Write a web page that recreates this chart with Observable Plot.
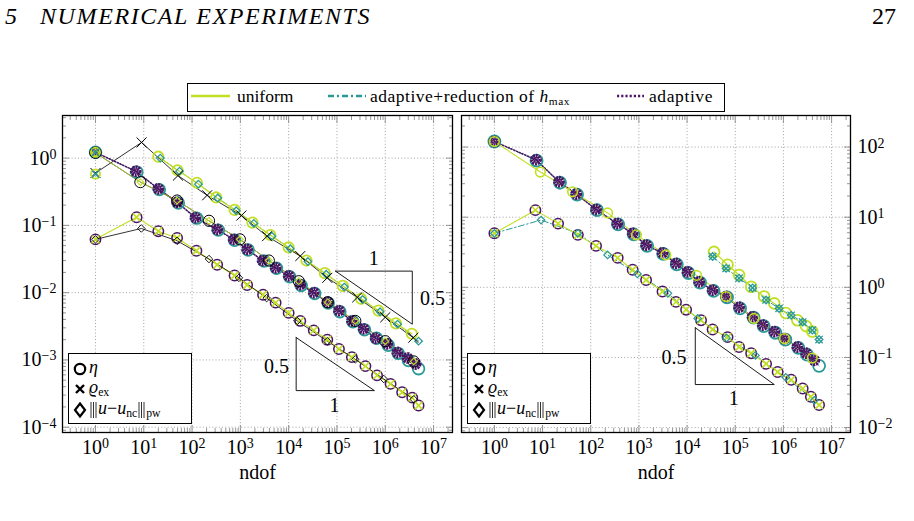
<!DOCTYPE html>
<html><head><meta charset="utf-8">
<script src="https://cdn.jsdelivr.net/npm/d3@7"></script>
<script src="https://cdn.jsdelivr.net/npm/@observablehq/plot@0.6"></script>
<style>
body{margin:0;width:914px;height:521px;position:relative;background:#fff;font-family:"Liberation Serif","Times New Roman","DejaVu Serif",serif;overflow:hidden;color:#000}
.abs{position:absolute;white-space:nowrap}
.leg{position:absolute;border:1px solid #000;background:#fff}
.ilg{position:absolute;border:1px solid #000;background:#fff;font-size:18px}
.ilg .row{position:absolute;left:4px;height:20px;line-height:20px}
.ilg svg{vertical-align:middle}
sub{font-size:0.65em;vertical-align:-0.25em}
.bars{display:inline-block;width:7px;height:16px;vertical-align:-3px;margin:0 1px}
</style></head><body>
<div class="abs" style="left:5px;top:3px;font-style:italic;font-size:24px">5</div>
<div class="abs" style="left:40px;top:3px;font-style:italic;font-size:24px;letter-spacing:1.6px">NUMERICAL EXPERIMENTS</div>
<div class="abs" style="left:872px;top:3px;font-size:24px">27</div>

<div class="leg" style="left:187px;top:83px;width:536px;height:27px"></div>
<svg class="abs" style="left:190px;top:90px" width="42" height="12"><line x1="1" y1="6" x2="40" y2="6" stroke="#c2df23" stroke-width="2.6"/></svg>
<div class="abs" style="left:237px;top:86px;font-size:17.5px">uniform</div>
<svg class="abs" style="left:327px;top:90px" width="42" height="12"><line x1="1" y1="6" x2="39" y2="6" stroke="#2a9a96" stroke-width="2.6" stroke-dasharray="6,3,2,3"/></svg>
<div class="abs" style="left:370px;top:86px;font-size:17.5px;letter-spacing:0.5px">adaptive+reduction of <i>h</i><sub>max</sub></div>
<svg class="abs" style="left:616px;top:90px" width="30" height="12"><line x1="1" y1="6" x2="28" y2="6" stroke="#4e1766" stroke-width="2.6" stroke-dasharray="2.2,2"/></svg>
<div class="abs" style="left:649px;top:86px;font-size:17.5px;letter-spacing:0.6px">adaptive</div>

<div id="left" class="abs" style="left:0px;top:100px"></div>
<div id="right" class="abs" style="left:457px;top:100px"></div>

<div class="ilg" style="left:68px;top:353px;width:122px;height:69px">
  <div class="row" style="top:3px"><svg width="16" height="14"><circle cx="7" cy="7" r="5.2" fill="none" stroke="#000" stroke-width="2.2"/></svg><i>η</i></div>
  <div class="row" style="top:23px"><svg width="16" height="14"><path d="M3,3L11,11M11,3L3,11" stroke="#000" stroke-width="2.4"/></svg><i>ϱ</i><sub>ex</sub></div>
  <div class="row" style="top:44px"><svg width="16" height="16"><path d="M7,1.5L12,8L7,14.5L2,8Z" fill="none" stroke="#000" stroke-width="2.2"/></svg><svg class="bars" viewBox="0 0 7 16"><path d="M1,0V16M3.5,0V16M6,0V16" stroke="#000" stroke-width="0.8"/></svg><i>u</i>−<i>u</i><sub>nc</sub><svg class="bars" viewBox="0 0 7 16"><path d="M1,0V16M3.5,0V16M6,0V16" stroke="#000" stroke-width="0.8"/></svg><sub>pw</sub></div>
</div>
<div class="ilg" style="left:467px;top:353px;width:122px;height:69px">
  <div class="row" style="top:3px"><svg width="16" height="14"><circle cx="7" cy="7" r="5.2" fill="none" stroke="#000" stroke-width="2.2"/></svg><i>η</i></div>
  <div class="row" style="top:23px"><svg width="16" height="14"><path d="M3,3L11,11M11,3L3,11" stroke="#000" stroke-width="2.4"/></svg><i>ϱ</i><sub>ex</sub></div>
  <div class="row" style="top:44px"><svg width="16" height="16"><path d="M7,1.5L12,8L7,14.5L2,8Z" fill="none" stroke="#000" stroke-width="2.2"/></svg><svg class="bars" viewBox="0 0 7 16"><path d="M1,0V16M3.5,0V16M6,0V16" stroke="#000" stroke-width="0.8"/></svg><i>u</i>−<i>u</i><sub>nc</sub><svg class="bars" viewBox="0 0 7 16"><path d="M1,0V16M3.5,0V16M6,0V16" stroke="#000" stroke-width="0.8"/></svg><sub>pw</sub></div>
</div>

<script>
// ---------------- data: left panel ----------------
const L_uniA_n = [20, 50, 126, 316, 760, 1780, 4170, 10000, 23400, 56200, 132000, 316000, 724000, 1660000, 3550000];
const L_uniA_v = [1.05, 0.66, 0.43, 0.26, 0.17, 0.11, 0.072, 0.047, 0.030, 0.0195, 0.0126, 0.0081, 0.0054, 0.0035, 0.00245];
const L_hmaxA_n = [22, 55, 135, 340, 820, 1900, 4500, 10800, 25000, 60000, 142000, 340000, 780000, 1800000, 4900000];
const L_hmaxA_v = [1.0, 0.64, 0.41, 0.255, 0.165, 0.107, 0.069, 0.045, 0.029, 0.0188, 0.0121, 0.0079, 0.0052, 0.0034, 0.0019];
const L_blackA_n = [1, 9, 51, 205, 1050, 3560, 17400, 63000, 263000, 1000000, 3800000];
const L_blackA_v = [0.6, 1.71, 0.55, 0.28, 0.14, 0.069, 0.035, 0.0166, 0.0085, 0.0043, 0.00214];
const L_start_n = [1, 1];
const L_start_v = [0.58, 1.22];

const L_adaB_n = [1, 6.8, 20, 49, 117, 331, 724, 1380, 2880, 5370, 10000, 17400, 33100, 63100, 110000, 204000, 355000, 631000, 1100000, 1780000, 2880000, 4270000];
const L_adaB_v = [1.22, 0.64, 0.35, 0.22, 0.13, 0.087, 0.062, 0.044, 0.030, 0.0234, 0.0178, 0.0132, 0.010, 0.0072, 0.0054, 0.0038, 0.0029, 0.0021, 0.00174, 0.00129, 0.00107, 0.00087];
const L_hmaxB_n = [1, 7.2, 21, 52, 125, 350, 760, 1450, 3100, 5600, 10500, 18200, 34700, 66000, 115000, 214000, 372000, 660000, 1150000, 1860000, 3020000, 4900000];
const L_hmaxB_v = [1.22, 0.62, 0.34, 0.215, 0.128, 0.085, 0.060, 0.043, 0.0295, 0.023, 0.0172, 0.0128, 0.0097, 0.0070, 0.0052, 0.0037, 0.0028, 0.0021, 0.00165, 0.00125, 0.00098, 0.00074];
const L_blackB_n = [1, 8.5, 49, 224, 977, 3890, 16200, 64600, 240000, 1000000, 3890000];
const L_blackB_v = [1.2, 0.44, 0.234, 0.117, 0.062, 0.030, 0.0148, 0.0072, 0.0038, 0.0019, 0.00095];

const L_adaC_n = [1, 7.1, 20, 49, 123, 331, 759, 1380, 2950, 5370, 10000, 17400, 33100, 63100, 110000, 204000, 389000, 676000, 1290000, 2240000, 3630000, 4900000];
const L_adaC_v = [0.062, 0.132, 0.082, 0.065, 0.042, 0.026, 0.018, 0.013, 0.0093, 0.0071, 0.0050, 0.0038, 0.00275, 0.0020, 0.00145, 0.0011, 0.00081, 0.00059, 0.00044, 0.00033, 0.000275, 0.00021];
const L_blackC_n = [1, 8.9, 49, 224, 933, 3500, 15100, 63100, 240000, 933000, 3890000];
const L_blackC_v = [0.062, 0.09, 0.059, 0.0316, 0.0166, 0.0083, 0.0038, 0.0019, 0.00102, 0.00052, 0.00026];

// slope triangles (left)
const L_tri1_n = [93300, 3630000, 3630000, 93300];
const L_tri1_v = [0.0209, 0.0209, 0.0034, 0.0209];
const L_tri2_n = [14300, 14300, 597000, 14300];
const L_tri2_v = [0.00215, 0.00035, 0.00035, 0.00215];
const L_triLab_n = [575000, 9500000, 5600, 89000];
const L_triLab_v = [0.0316, 0.0081, 0.00079, 0.00021];
const L_triLab_t = ["1", "0.5", "0.5", "1"];

// ---------------- data: right panel ----------------
const R_uniA_n = [36300, 69200, 120000, 214000, 398000, 646000, 1120000, 1950000, 2950000, 3980000];
const R_uniA_v = [3.2, 2.1, 1.5, 1.02, 0.74, 0.59, 0.43, 0.34, 0.28, 0.234];
const R_hmaxA_n = [33900, 64600, 120000, 229000, 437000, 813000, 1450000, 2510000, 3980000, 5500000];
const R_hmaxA_v = [2.75, 1.86, 1.35, 0.98, 0.66, 0.50, 0.40, 0.32, 0.245, 0.18];

const R_adaB_n = [1, 7.3, 22, 50, 129, 355, 741, 1410, 3090, 5890, 10200, 17800, 33900, 64600, 120000, 229000, 372000, 646000, 1050000, 1950000, 2950000, 4370000];
const R_adaB_v = [120, 66, 32, 21.4, 12.9, 8.1, 5.9, 4.0, 3.1, 2.19, 1.66, 1.2, 0.91, 0.74, 0.52, 0.38, 0.29, 0.234, 0.186, 0.141, 0.115, 0.091];
const R_hmaxB_n = [1, 7.5, 23, 52, 135, 370, 780, 1480, 3200, 6100, 10700, 18600, 35500, 67600, 126000, 240000, 390000, 680000, 1100000, 2040000, 3090000, 5500000];
const R_hmaxB_v = [120, 64, 31, 21, 12.6, 7.9, 5.7, 3.9, 3.0, 2.12, 1.6, 1.17, 0.89, 0.72, 0.5, 0.37, 0.28, 0.225, 0.18, 0.137, 0.11, 0.076];
const R_uniB_n = [1, 9, 42, 224, 891, 3630, 15800, 64600, 245000, 1050000, 3980000];
const R_uniB_v = [120, 44, 23, 11.5, 5.6, 2.9, 1.48, 0.74, 0.36, 0.186, 0.098];

const R_adaC_n = [1, 7.1, 21, 54, 129, 363, 741, 1410, 3090, 5890, 9550, 19500, 33900, 69200, 120000, 214000, 437000, 759000, 1450000, 2510000, 3720000, 5500000];
const R_adaC_v = [5.9, 12.6, 8.1, 5.6, 3.9, 2.63, 1.78, 1.27, 0.87, 0.62, 0.48, 0.34, 0.25, 0.195, 0.141, 0.115, 0.081, 0.062, 0.048, 0.036, 0.0275, 0.021];
const R_hmaxC_n = [1, 9.3, 54, 224, 933, 4000, 16600, 66000, 263000, 1120000, 4370000];
const R_hmaxC_v = [5.9, 9.1, 5.9, 2.9, 1.55, 0.82, 0.36, 0.19, 0.107, 0.052, 0.0245];

const R_tri_n = [14800, 14800, 646000, 14800];
const R_tri_v = [0.265, 0.0411, 0.0411, 0.265];
const R_triLab_n = [5370, 93300];
const R_triLab_v = [0.1, 0.026];
const R_triLab_t = ["0.5", "1"];

// axis configuration
const xDomain = [0.2075, 2.47e7];
const yDomainL = [8.34e-5, 4.30];
const yDomainR = [0.00851, 281.8];
const xMajor = [1, 10, 100, 1e3, 1e4, 1e5, 1e6, 1e7];
const yMajorL = [1e-4, 1e-3, 1e-2, 1e-1, 1];
const yMajorR = [1e-2, 1e-1, 1, 10, 100];

// ---------------- drawing ----------------
const SERIF = "'Liberation Serif','Times New Roman','DejaVu Serif',serif";
const LIME = "#c2df23", TEAL = "#2a9a96", PURPLE = "#4a1463", BLACK = "#000";
const DASHDOT = "6,2.5,1.5,2.5", DOTTED = "1.3,1.7";
const pts = (n, v) => n.map((d, i) => ({n: d, v: v[i]}));
const ln = (n, v, stroke, o = {}) => Plot.line(pts(n, v), {x: "n", y: "v", stroke, strokeWidth: 1, ...o});
const dt = (n, v, symbol, stroke, r, o = {}) => Plot.dot(pts(n, v), {x: "n", y: "v", symbol, stroke, r, fill: "none", strokeWidth: 1.4, ...o});
const dotted = (n, v) => [
  dt(n, v, "circle", PURPLE, 4.3, {strokeWidth: 3.2, strokeDasharray: "2,0.8"}),
  dt(n, v, "times", PURPLE, 3.2, {strokeWidth: 1.8, strokeDasharray: "1.5,0.7"}),
  dt(n, v, "diamond2", PURPLE, 2.4, {strokeWidth: 1.6, strokeDasharray: "1.5,0.7"})
];

function minorTicks(lo, hi) {
  const out = [];
  for (let k = Math.floor(Math.log10(lo)); k <= Math.ceil(Math.log10(hi)); k++)
    for (let m = 2; m <= 9; m++) { const t = m * Math.pow(10, k); if (t >= lo && t <= hi) out.push(t); }
  return out;
}
const fmt = d => "10^" + Math.round(Math.log10(d));

function frameAxes(yMajor, yDomain, labelSide) {
  const tk = {stroke: "#8a8a8a", strokeWidth: 0.9, tickFormat: () => "", label: null};
  const xm = minorTicks(...xDomain), ym = minorTicks(...yDomain);
  return [
    Plot.gridX(xMajor, {stroke: "#9a9a9a", strokeOpacity: 1, strokeDasharray: "1,2.2", strokeWidth: 0.9}),
    Plot.gridY(yMajor, {stroke: "#9a9a9a", strokeOpacity: 1, strokeDasharray: "1,2.2", strokeWidth: 0.9}),
    Plot.axisX({anchor: "bottom", ticks: xMajor, tickSize: 7, dy: -7, ...tk}),
    Plot.axisX({anchor: "bottom", ticks: xm, tickSize: 4, dy: -4, ...tk}),
    Plot.axisX({anchor: "top", ticks: xMajor, tickSize: 7, dy: 7, ...tk}),
    Plot.axisX({anchor: "top", ticks: xm, tickSize: 4, dy: 4, ...tk}),
    Plot.axisY({anchor: "left", ticks: yMajor, tickSize: 7, dx: 7, ...tk}),
    Plot.axisY({anchor: "left", ticks: ym, tickSize: 4, dx: 4, ...tk}),
    Plot.axisY({anchor: "right", ticks: yMajor, tickSize: 7, dx: -7, ...tk}),
    Plot.axisY({anchor: "right", ticks: ym, tickSize: 4, dx: -4, ...tk}),
    Plot.axisX({anchor: "bottom", ticks: xMajor, tickSize: 0, tickPadding: 7, tickFormat: fmt, label: null, fontFamily: SERIF}),
    Plot.axisY({anchor: labelSide, ticks: yMajor, tickSize: 0, tickPadding: labelSide === "left" ? 6 : 7, tickFormat: fmt, label: null, fontFamily: SERIF}),
    Plot.text(["ndof"], {frameAnchor: "bottom", text: d => d, dy: 46, fontSize: 20, fontFamily: SERIF})
  ];
}

function superscripts(svg) {
  const NS = "http://www.w3.org/2000/svg";
  svg.querySelectorAll("text").forEach(t => {
    const s = t.textContent; const i = s.indexOf("^");
    if (i < 0) return;
    t.textContent = "";
    const a = document.createElementNS(NS, "tspan"); a.textContent = s.slice(0, i);
    const b = document.createElementNS(NS, "tspan"); b.textContent = s.slice(i + 1).replace("-", "−");
    b.setAttribute("dy", "-0.42em"); b.setAttribute("font-size", "0.7em");
    t.append(a, b);
  });
}

const common = {
  width: 457, height: 392, marginTop: 15, marginBottom: 60,
  style: {fontFamily: SERIF, fontSize: "20px", background: "transparent", color: "#000"}
};

const leftPlot = Plot.plot({
  ...common, marginLeft: 62, marginRight: 5,
  x: {type: "log", domain: xDomain},
  y: {type: "log", domain: yDomainL},
  marks: [
    ...frameAxes(yMajorL, yDomainL, "left"),
    ln(L_tri1_n, L_tri1_v, BLACK, {strokeWidth: 0.9}),
    ln(L_tri2_n, L_tri2_v, BLACK, {strokeWidth: 0.9}),
    Plot.text(pts(L_triLab_n, L_triLab_v).map((d, i) => ({...d, t: L_triLab_t[i]})), {x: "n", y: "v", text: "t", fontSize: 20, fontFamily: SERIF}),
    // band A
    ln(L_hmaxA_n, L_hmaxA_v, TEAL, {strokeDasharray: DASHDOT}),
    ln(L_uniA_n, L_uniA_v, LIME, {strokeWidth: 1.2}),
    ln(L_blackA_n, L_blackA_v, BLACK, {strokeWidth: 0.8}),
    dt(L_uniA_n, L_uniA_v, "circle", LIME, 5.2, {strokeWidth: 1.8}),
    dt(L_hmaxA_n, L_hmaxA_v, "diamond2", TEAL, 3.4, {strokeWidth: 1.3}),
    dt(L_blackA_n, L_blackA_v, "times", BLACK, 4.6, {strokeWidth: 1}),
    // band B
    ln(L_hmaxB_n, L_hmaxB_v, TEAL, {strokeDasharray: DASHDOT}),
    ln(L_adaB_n, L_adaB_v, PURPLE, {strokeDasharray: DOTTED, strokeWidth: 1.5}),
    ln(L_blackB_n, L_blackB_v, BLACK, {strokeWidth: 0.8}),
    ln(L_blackB_n, L_blackB_v, LIME, {strokeWidth: 0.8}),
    dt(L_hmaxB_n, L_hmaxB_v, "circle", TEAL, 5.8, {strokeWidth: 1.8}),
    ...dotted(L_adaB_n, L_adaB_v),
    dt(L_blackB_n, L_blackB_v, "circle", BLACK, 5.6, {strokeWidth: 1}),
    dt(L_blackB_n, L_blackB_v, "diamond2", LIME, 3, {strokeWidth: 1.1}),
    // band C
    ln(L_adaC_n, L_adaC_v, LIME, {strokeWidth: 1.1}),
    ln(L_blackC_n, L_blackC_v, BLACK, {strokeWidth: 0.8}),
    dt(L_adaC_n, L_adaC_v, "circle", PURPLE, 5.2, {strokeWidth: 1.5}),
    dt(L_adaC_n, L_adaC_v, "times", LIME, 3.6, {strokeWidth: 1.6}),
    dt(L_blackC_n, L_blackC_v, "diamond2", BLACK, 3.4, {strokeWidth: 0.9}),
    // starting markers
    dt(L_start_n, L_start_v, "circle", LIME, 4.6, {strokeWidth: 1.8}),
    dt(L_start_n, L_start_v, "times", TEAL, 3.4, {strokeWidth: 1.4}),
    Plot.frame({stroke: BLACK, strokeWidth: 1.3})
  ]
});

const rightPlot = Plot.plot({
  ...common, marginLeft: 4, marginRight: 64,
  x: {type: "log", domain: xDomain},
  y: {type: "log", domain: yDomainR},
  marks: [
    ...frameAxes(yMajorR, yDomainR, "right"),
    ln(R_tri_n, R_tri_v, BLACK, {strokeWidth: 0.9}),
    Plot.text(pts(R_triLab_n, R_triLab_v).map((d, i) => ({...d, t: R_triLab_t[i]})), {x: "n", y: "v", text: "t", fontSize: 20, fontFamily: SERIF}),
    // band A
    ln(R_hmaxA_n, R_hmaxA_v, TEAL, {strokeDasharray: DASHDOT}),
    ln(R_uniA_n, R_uniA_v, LIME, {strokeWidth: 1.2}),
    dt(R_uniA_n, R_uniA_v, "circle", LIME, 5.4, {strokeWidth: 1.8}),
    dt(R_hmaxA_n, R_hmaxA_v, "diamond2", TEAL, 3.4, {strokeWidth: 1.3}),
    dt(R_hmaxA_n, R_hmaxA_v, "times", TEAL, 3.4, {strokeWidth: 1.3}),
    // band B
    ln(R_hmaxB_n, R_hmaxB_v, TEAL, {strokeDasharray: DASHDOT}),
    ln(R_adaB_n, R_adaB_v, PURPLE, {strokeDasharray: DOTTED, strokeWidth: 1.5}),
    ln(R_uniB_n, R_uniB_v, LIME, {strokeWidth: 1.1}),
    dt(R_hmaxB_n, R_hmaxB_v, "circle", TEAL, 6, {strokeWidth: 1.8}),
    ...dotted(R_adaB_n, R_adaB_v),
    dt(R_uniB_n, R_uniB_v, "circle", LIME, 4.8, {strokeWidth: 1.6}),
    // band C
    ln(R_hmaxC_n, R_hmaxC_v, TEAL, {strokeDasharray: DASHDOT}),
    ln(R_adaC_n, R_adaC_v, LIME, {strokeWidth: 1.1}),
    dt(R_adaC_n, R_adaC_v, "circle", PURPLE, 5.2, {strokeWidth: 1.5}),
    dt(R_adaC_n, R_adaC_v, "times", LIME, 3.6, {strokeWidth: 1.6}),
    dt(R_hmaxC_n, R_hmaxC_v, "diamond2", TEAL, 3.4, {strokeWidth: 1.2}),
    Plot.frame({stroke: BLACK, strokeWidth: 1.3})
  ]
});

superscripts(leftPlot);
superscripts(rightPlot);
document.getElementById("left").append(leftPlot);
document.getElementById("right").append(rightPlot);
</script>
</body></html>
